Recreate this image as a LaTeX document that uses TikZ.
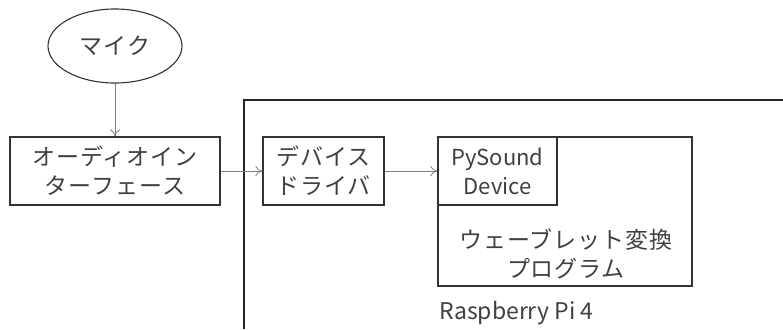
\documentclass[tikz,border=0pt]{standalone}
\usepackage{fontspec}
\setmainfont{Noto Sans CJK JP}[LetterSpace=4]
\newfontfamily\latinfont{Noto Sans CJK JP}
\usetikzlibrary{shapes.geometric,arrows.meta}
\tikzset{
  box/.style={draw=black!80, line width=1.3pt, rectangle, inner sep=0pt, align=center},
  flow/.style={draw=black!50, line width=0.8pt, -{To[length=7pt,width=10pt]}},
  txt/.style={font=\fontsize{23}{29}\selectfont, text=black!75, align=center},
}
\begin{document}
\begin{tikzpicture}[x=1pt,y=-1pt]
\useasboundingbox (0,0) rectangle (783,329);
% Raspberry Pi frame
\coordinate (fr1) at (783,100);
\coordinate (fr2) at (244,100);
\coordinate (fr3) at (244,329);
\draw[black!85, line width=1.3pt] (fr1) -- (fr2) -- (fr3);
\node[anchor=west, txt, font=\latinfont\fontsize{23}{29}\selectfont] (rpi) at (436,313) {Raspberry Pi 4};
% nodes
\node[ellipse, draw=black!80, line width=1.1pt, minimum width=134pt, minimum height=74pt, inner sep=0pt, txt] (mic) at (115,46) {マイク};
\node[box, txt, minimum width=210pt, minimum height=68pt] (audio) at (115,171) {オーディオイン\\ターフェース};
\node[box, txt, minimum width=121pt, minimum height=68pt] (drv) at (323.5,171) {デバイス\\ドライバ};
\node[box, minimum width=254pt, minimum height=149pt] (prog) at (565,211.5) {};
\node[box, txt, font=\latinfont\fontsize{22}{29}\selectfont, minimum width=119pt, minimum height=68pt] (pys) at (497.5,171) {PySound\\Device};
\node[txt] (wt) at (566,254) {ウェーブレット変換\\プログラム};
% connectors
\draw[flow] (mic) -- (audio);
\draw[flow] (audio) -- (drv);
\draw[flow] (drv) -- (pys);
\end{tikzpicture}
\end{document}
